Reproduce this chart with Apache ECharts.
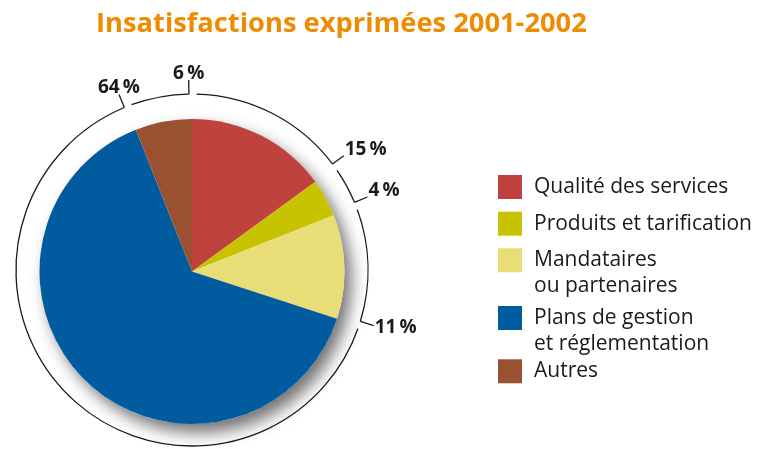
<!DOCTYPE html>
<html>
<head>
<meta charset="utf-8">
<script src="https://cdn.jsdelivr.net/npm/echarts@6/dist/echarts.min.js"></script>
<style>
  html, body { margin: 0; padding: 0; background: #ffffff; }
  #chart { width: 761px; height: 449px; }
</style>
</head>
<body>
<div id="chart"></div>
<script>
// Chart content
const chartTitle = 'Insatisfactions exprimées 2001-2002';
const categories = [
  'Qualité des services',
  'Produits et tarification',
  'Mandataires\nou partenaires',
  'Plans de gestion\net réglementation',
  'Autres'
];
const shares = [15, 4, 11, 64, 6];
const sliceColors = ['#bf423f', '#c8c300', '#e8dd77', '#005c9e', '#9a5132'];

// Layout
const PIE = { cx: 192, cy: 271.5, r: 152.5 };
const RING = { cx: 192, cy: 270, r: 176, tick: 14, gapStart: 1.5, gapEnd: 1 };
const LEGEND_LEFT = 498;
const LEGEND_ICON_TOPS = [174, 210.7, 247.3, 305, 358.3];
const INK = '#1a1a1a';

const total = shares.reduce((a, b) => a + b, 0);
const startDeg = [];
shares.reduce((acc, v) => { startDeg.push(acc / total * 360); return acc + v; }, 0);

// Outer ring: one arc per slice, ending in a short radial tick carrying the percentage
function renderRingItem(params, api) {
  const i = params.dataIndex;
  const v = api.value(0);
  const a0 = startDeg[i] + RING.gapStart;
  const a1 = startDeg[i] + v / total * 360 - RING.gapEnd;
  const toRad = d => (d - 90) * Math.PI / 180;
  const pt = (deg, r) => [RING.cx + r * Math.cos(toRad(deg)), RING.cy + r * Math.sin(toRad(deg))];
  const p1 = pt(a1, RING.r);
  const p2 = pt(a1, RING.r + RING.tick);
  const s = Math.sin(a1 * Math.PI / 180);
  const c = Math.cos(a1 * Math.PI / 180);
  const align = s > 0.6 ? 'left' : (s < -0.6 ? 'right' : 'center');
  const vAlign = c > 0.3 ? 'bottom' : (c < -0.3 ? 'top' : 'middle');
  return {
    type: 'group',
    children: [
      {
        type: 'arc',
        shape: { cx: RING.cx, cy: RING.cy, r: RING.r, startAngle: toRad(a0), endAngle: toRad(a1), clockwise: true },
        style: { stroke: INK, lineWidth: 1.3, fill: 'none' }
      },
      {
        type: 'line',
        shape: { x1: p1[0], y1: p1[1], x2: p2[0], y2: p2[1] },
        style: { stroke: INK, lineWidth: 1.3 }
      },
      {
        type: 'text',
        x: p2[0] + (align === 'left' ? 1 : 0),
        y: p2[1] + (vAlign === 'bottom' ? 3 : 2),
        style: {
          text: v + '\u2009%',
          fill: INK,
          fontFamily: 'Open Sans',
          fontWeight: 'bold',
          fontSize: 19,
          align: align,
          verticalAlign: vAlign
        }
      }
    ]
  };
}

// Two-line legend entries get an empty leading line so that their first
// line sits level with the colour square.
const isTwoLine = name => name.indexOf('\n') >= 0;
const TWO_LINE_SHIFT = 26;

const option = {
  animation: false,
  backgroundColor: '#ffffff',
  title: {
    text: chartTitle,
    left: 96,
    top: 11,
    padding: 0,
    textStyle: { color: '#ee8b00', fontFamily: 'Open Sans', fontWeight: 'bold', fontSize: 27.3 }
  },
  legend: categories.map((name, i) => ({
    data: [name],
    orient: 'vertical',
    left: LEGEND_LEFT,
    top: LEGEND_ICON_TOPS[i] - (isTwoLine(name) ? TWO_LINE_SHIFT : 0),
    padding: 0,
    itemWidth: 24,
    itemHeight: 24,
    icon: 'rect',
    selectedMode: false,
    formatter: n => (isTwoLine(n) ? '\n' + n : n),
    textStyle: { fontFamily: 'Open Sans', fontSize: 21, lineHeight: 26, color: INK, padding: [0, 0, 0, 7] }
  })),
  series: [
    {
      // soft drop shadow under the disc
      type: 'pie',
      silent: true,
      center: [PIE.cx, PIE.cy],
      radius: PIE.r,
      label: { show: false },
      labelLine: { show: false },
      itemStyle: {
        color: '#ffffff',
        shadowBlur: 16,
        shadowOffsetX: 7,
        shadowOffsetY: 9,
        shadowColor: 'rgba(0,0,0,0.55)'
      },
      data: [{ name: 'disc', value: total }],
      z: 1
    },
    {
      type: 'pie',
      silent: true,
      center: [PIE.cx, PIE.cy],
      radius: PIE.r,
      startAngle: 90,
      clockwise: true,
      label: { show: false },
      labelLine: { show: false },
      itemStyle: { borderWidth: 0 },
      data: categories.map((name, i) => ({ name: name, value: shares[i], itemStyle: { color: sliceColors[i] } })),
      z: 2
    },
    {
      type: 'custom',
      coordinateSystem: 'none',
      silent: true,
      renderItem: renderRingItem,
      data: shares,
      z: 3
    }
  ]
};

const chart = echarts.init(document.getElementById('chart'), null, { renderer: 'canvas' });
chart.setOption(option);
</script>
</body>
</html>
